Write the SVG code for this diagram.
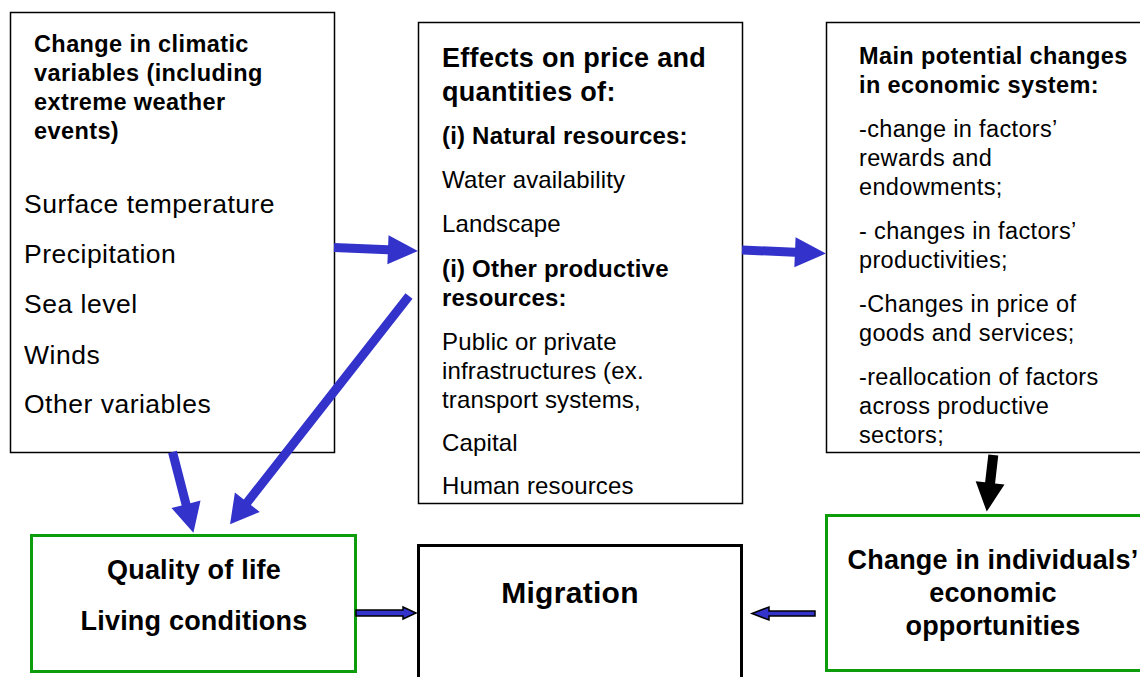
<svg xmlns="http://www.w3.org/2000/svg" width="1140" height="677" viewBox="0 0 1140 677">
<style>
text{font-family:"Liberation Sans",Arial,Helvetica,sans-serif;fill:#000}
.b{font-weight:bold}
.box{fill:#fff;stroke:#000;stroke-width:1.5}
.gbox{fill:#fff;stroke:#0c9c0c;stroke-width:3}
.kbox{fill:#fff;stroke:#000;stroke-width:3}
.h1{font-size:23.5px;font-weight:bold;letter-spacing:0.4px}
.h2{font-size:27px;font-weight:bold;letter-spacing:0.3px}
.l1{font-size:26.5px;letter-spacing:0.5px}
.l2{font-size:24px;letter-spacing:0.15px}
.l2b{font-size:24px;font-weight:bold;letter-spacing:0.2px}
.l3{font-size:23.5px;letter-spacing:0.35px}
.bt{font-size:27px;font-weight:bold;letter-spacing:0.2px;text-anchor:middle}
.blue{fill:#3333cc}
.hollow{fill:#3333cc;stroke:#000;stroke-width:1.5}
</style>
<rect width="1140" height="677" fill="#fff"/>
<g id="climate">
<rect class="box" x="10.5" y="12.5" width="324" height="440"/>
<text class="h1" x="34" y="52">Change in climatic</text>
<text class="h1" x="34" y="81">variables (including</text>
<text class="h1" x="34" y="110">extreme weather</text>
<text class="h1" x="34" y="139">events)</text>
<text class="l1" x="24" y="213">Surface temperature</text>
<text class="l1" x="24" y="263">Precipitation</text>
<text class="l1" x="24" y="313">Sea level</text>
<text class="l1" x="24" y="364">Winds</text>
<text class="l1" x="24" y="413">Other variables</text>
</g>
<g id="effects">
<rect class="box" x="418.5" y="22.5" width="324" height="481"/>
<text class="h2" x="442" y="67">Effects on price and</text>
<text class="h2" x="442" y="101">quantities of:</text>
<text class="l2b" x="442" y="144">(i) Natural resources:</text>
<text class="l2" x="442" y="188">Water availability</text>
<text class="l2" x="442" y="232">Landscape</text>
<text class="l2b" x="442" y="277">(i) Other productive</text>
<text class="l2b" x="442" y="306">resources:</text>
<text class="l2" x="442" y="350">Public or private</text>
<text class="l2" x="442" y="379">infrastructures (ex.</text>
<text class="l2" x="442" y="408">transport systems,</text>
<text class="l2" x="442" y="451">Capital</text>
<text class="l2" x="442" y="494">Human resources</text>
</g>
<g id="economic">
<rect class="box" x="826.5" y="22.5" width="324" height="430"/>
<text class="h1" x="859" y="64">Main potential changes</text>
<text class="h1" x="859" y="93">in economic system:</text>
<text class="l3" x="859" y="137">-change in factors’</text>
<text class="l3" x="859" y="166">rewards and</text>
<text class="l3" x="859" y="195">endowments;</text>
<text class="l3" x="859" y="239">- changes in factors’</text>
<text class="l3" x="859" y="268">productivities;</text>
<text class="l3" x="859" y="312">-Changes in price of</text>
<text class="l3" x="859" y="341">goods and services;</text>
<text class="l3" x="859" y="385">-reallocation of factors</text>
<text class="l3" x="859" y="414">across productive</text>
<text class="l3" x="859" y="443">sectors;</text>
</g>
<g id="quality">
<rect class="gbox" x="31.5" y="535.5" width="324" height="136"/>
<text class="bt" x="194" y="579">Quality of life</text>
<text class="bt" x="194" y="630">Living conditions</text>
</g>
<g id="migration">
<rect class="kbox" x="418.5" y="545.5" width="323" height="150"/>
<text class="b" x="570" y="603" font-size="30" letter-spacing="0.3" text-anchor="middle">Migration</text>
</g>
<g id="opportunities">
<rect class="gbox" x="826.5" y="515.5" width="330" height="155"/>
<text class="bt" x="993" y="569" letter-spacing="0.4">Change in individuals’</text>
<text class="bt" x="993" y="602" letter-spacing="0.4">economic</text>
<text class="bt" x="993" y="635" letter-spacing="0.4">opportunities</text>
</g>
<g id="connectors">
<g transform="translate(334,247.5) rotate(2.4)"><polygon class="blue" points="0,-4.5 54,-4.5 54,-14.5 84,0 54,14.5 54,4.5 0,4.5"/></g>
<g transform="translate(742,250) rotate(2.4)"><polygon class="blue" points="0,-4.5 53,-4.5 53,-15 84,0 53,15 53,4.5 0,4.5"/></g>
<g transform="translate(172.5,452) rotate(75.5)"><polygon class="blue" points="0,-4.5 54,-4.5 54,-15 83.5,0 54,15 54,4.5 0,4.5"/></g>
<g transform="translate(409,296) rotate(128.1)"><polygon class="blue" points="0,-4.5 262,-4.5 262,-15.8 290,0 262,15.8 262,4.5 0,4.5"/></g>
<g transform="translate(993.3,455) rotate(96.6)"><polygon fill="#000" points="0,-5 28,-5 28,-14.5 57,0 28,14.5 28,5 0,5"/></g>
<polygon class="hollow" points="356,610 403,610 403,607 416,613 403,619 403,616 356,616"/>
<polygon class="hollow" points="815,611 769,611 769,607 752,613.5 769,620 769,616 815,616"/>
</g>
</svg>
